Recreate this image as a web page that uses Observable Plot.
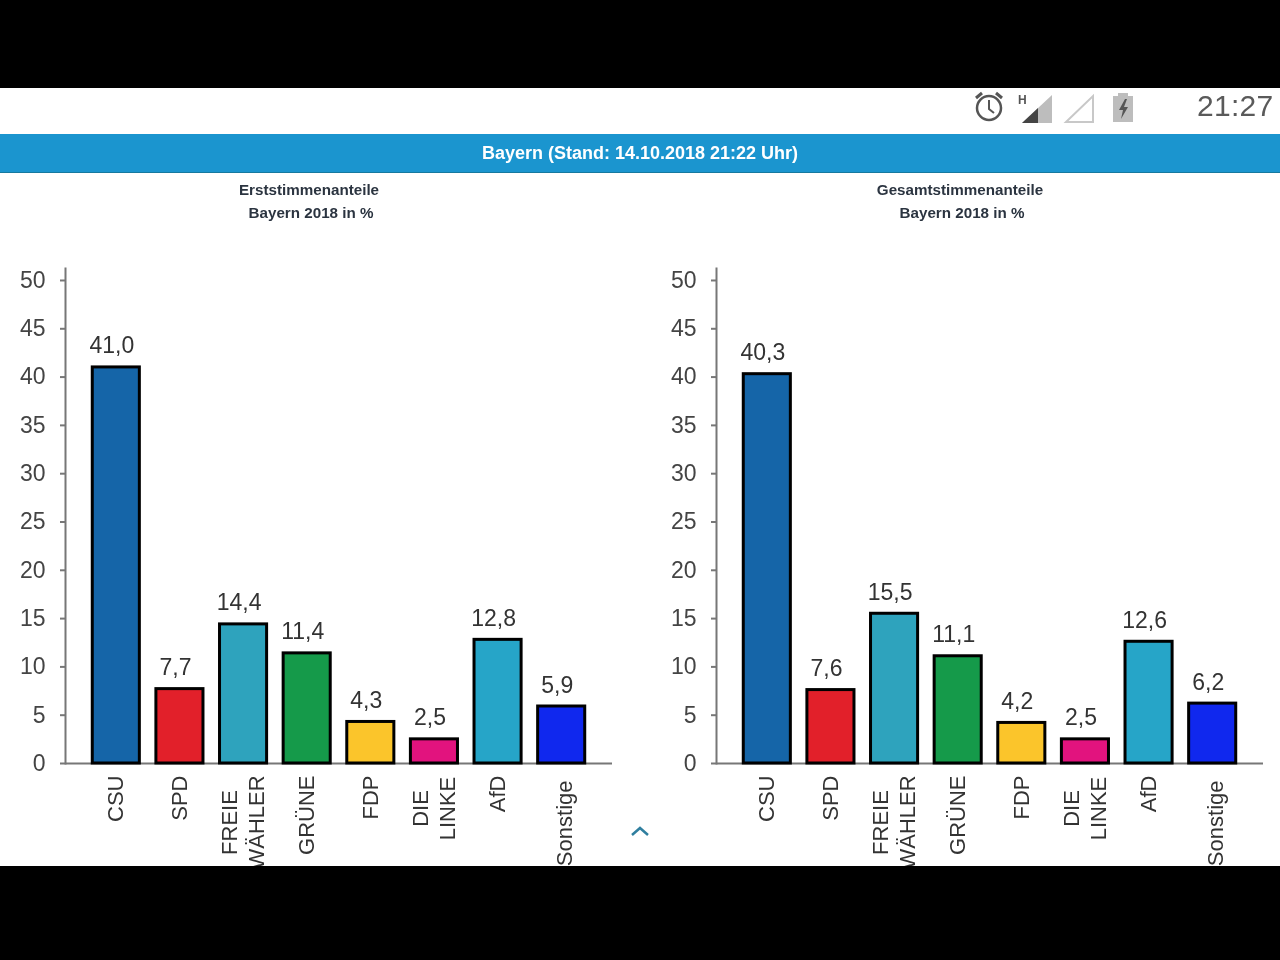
<!DOCTYPE html>
<html><head><meta charset="utf-8">
<script src="https://cdn.jsdelivr.net/npm/d3@7"></script>
<script src="https://cdn.jsdelivr.net/npm/@observablehq/plot@0.6"></script>
<style>
html,body{margin:0;padding:0;background:#000;}
#root{position:relative;width:1280px;height:960px;background:#000;overflow:hidden;font-family:"Liberation Sans",Arial,sans-serif;filter:blur(.55px);}
#page{position:absolute;left:0;top:88px;width:1280px;height:778px;background:#fff;overflow:hidden;}
#band{position:absolute;left:0;top:46px;width:1280px;height:39px;background:#1b95cf;border-bottom:1px solid #17799f;box-sizing:border-box;color:#fff;font-weight:bold;font-size:18px;line-height:38px;text-align:center;}
.t{position:absolute;transform:translateX(-50%);white-space:nowrap;font-weight:bold;font-size:15.2px;color:#2b3440;line-height:16px;}
.panel{position:absolute;top:172px;}
#clock{position:absolute;left:1197px;font-size:30px;line-height:36px;color:#5a5a5a;top:0;letter-spacing:.3px;}
svg.ic{position:absolute;left:0;top:0;}
</style></head><body>
<div id="root"><div id="page">
<svg class="ic" width="1280" height="778" style="z-index:3">
  <g fill="none" stroke="#555" stroke-width="2.5">
    <circle cx="989" cy="20" r="12"/>
    <path d="M989 12v9l5 4" stroke-width="2"/>
    <path d="M976 10l6-5M1002 10l-6-5" stroke-width="3"/>
  </g>
  <text x="1018" y="16" font-size="12" font-weight="bold" fill="#555" font-family="Liberation Sans">H</text>
  <path d="M1022 35L1052 7V35Z" fill="#bdbdbd"/>
  <path d="M1022 35L1038 20V35Z" fill="#444"/>
  <path d="M1066 34L1093 8V34Z" fill="none" stroke="#c8c8c8" stroke-width="2"/>
  <rect x="1113" y="8" width="20" height="26" fill="#bdbdbd"/>
  <rect x="1118" y="5" width="10" height="3" fill="#bdbdbd"/>
  <path d="M1125 11l-6 11h4l-2 9 7-12h-4l3-8z" fill="#555"/>
  <path d="M632 747l8-7 8 7" fill="none" stroke="#2f7f9f" stroke-width="2.5"/>
</svg>
<div id="clock">21:27</div>
<div id="band">Bayern (Stand: 14.10.2018 21:22 Uhr)</div>
<div class="t" style="left:309px;top:94px">Erststimmenanteile</div>
<div class="t" style="left:311px;top:117px">Bayern 2018 in %</div>
<div class="t" style="left:960px;top:94px">Gesamtstimmenanteile</div>
<div class="t" style="left:962px;top:117px">Bayern 2018 in %</div>
<div class="panel" id="p1" style="left:0"></div>
<div class="panel" id="p2" style="left:651px"></div>
</div></div>
<script>
const categories = ["CSU","SPD","FREIE WÄHLER","GRÜNE","FDP","DIE LINKE","AfD","Sonstige"];
const erststimmen = [41.0,7.7,14.4,11.4,4.3,2.5,12.8,5.9];
const gesamtstimmen = [40.3,7.6,15.5,11.1,4.2,2.5,12.6,6.2];
const colors = ["#1565a8","#e2202a","#2ea3bd","#159a4a","#fbc52b","#e2137e","#26a5c8","#1028ee"];
const yTicks = [0,5,10,15,20,25,30,35,40,45,50];
const singleLabels = ["CSU","SPD","GRÜNE","FDP","AfD"];
const twoLineLabels = [
  {cat:"FREIE WÄHLER",a:"FREIE",b:"WÄHLER"},
  {cat:"DIE LINKE",a:"DIE",b:"LINKE"}
];

function panel(values, width){
  const rows = categories.map((c,i)=>({cat:c,v:values[i]}));
  const fs = {fontSize:22,fill:"#333"};
  return Plot.plot({
    width, height:606,
    marginLeft:65, marginRight:width-612, marginTop:8, marginBottom:103,
    style:{fontFamily:"'Liberation Sans',Arial,sans-serif",background:"transparent",overflow:"hidden"},
    x:{type:"band",domain:categories,range:[84,593],paddingInner:.26,paddingOuter:.13,round:false,axis:null,label:null},
    y:{domain:[0,51.24],axis:null,label:null},
    color:{type:"ordinal",domain:categories,range:colors},
    marks:[
      Plot.ruleY([0],{stroke:"#777",strokeWidth:2}),
      Plot.barY(rows,{x:"cat",y:"v",fill:"cat",stroke:"#000",strokeWidth:3}),
      Plot.frame({anchor:"left",stroke:"#777",strokeWidth:2}),
      Plot.axisY({ticks:yTicks,tickSize:5,tickPadding:15,fontSize:23,color:"#444",stroke:"#777",strokeWidth:2,label:null,tickFormat:d=>String(d)}),
      Plot.text(rows,{x:"cat",y:"v",text:d=>d.v.toFixed(1).replace(".",","),dx:-4.5,dy:-14,lineAnchor:"bottom",fontSize:23,fill:"#333"}),
      Plot.text(rows.filter(d=>singleLabels.includes(d.cat)),{x:"cat",y:()=>0,text:"cat",rotate:-90,textAnchor:"end",lineAnchor:"middle",dy:12,...fs}),
      Plot.text(rows.filter(d=>d.cat==="Sonstige"),{x:"cat",y:()=>0,text:"cat",rotate:-90,textAnchor:"end",lineAnchor:"middle",dy:17,dx:3,...fs}),
      Plot.text(twoLineLabels.slice(0,1),{x:"cat",y:()=>0,text:"a",rotate:-90,textAnchor:"middle",lineAnchor:"middle",dy:59,dx:-13.5,...fs}),
      Plot.text(twoLineLabels.slice(0,1),{x:"cat",y:()=>0,text:"b",rotate:-90,textAnchor:"middle",lineAnchor:"middle",dy:59,dx:13.5,...fs}),
      Plot.text(twoLineLabels.slice(1),{x:"cat",y:()=>0,text:"a",rotate:-90,textAnchor:"middle",lineAnchor:"middle",dy:45,dx:-13.5,...fs}),
      Plot.text(twoLineLabels.slice(1),{x:"cat",y:()=>0,text:"b",rotate:-90,textAnchor:"middle",lineAnchor:"middle",dy:45,dx:13.5,...fs})
    ]
  });
}
document.getElementById("p1").append(panel(erststimmen,640));
document.getElementById("p2").append(panel(gesamtstimmen,629));
</script>
</body></html>
